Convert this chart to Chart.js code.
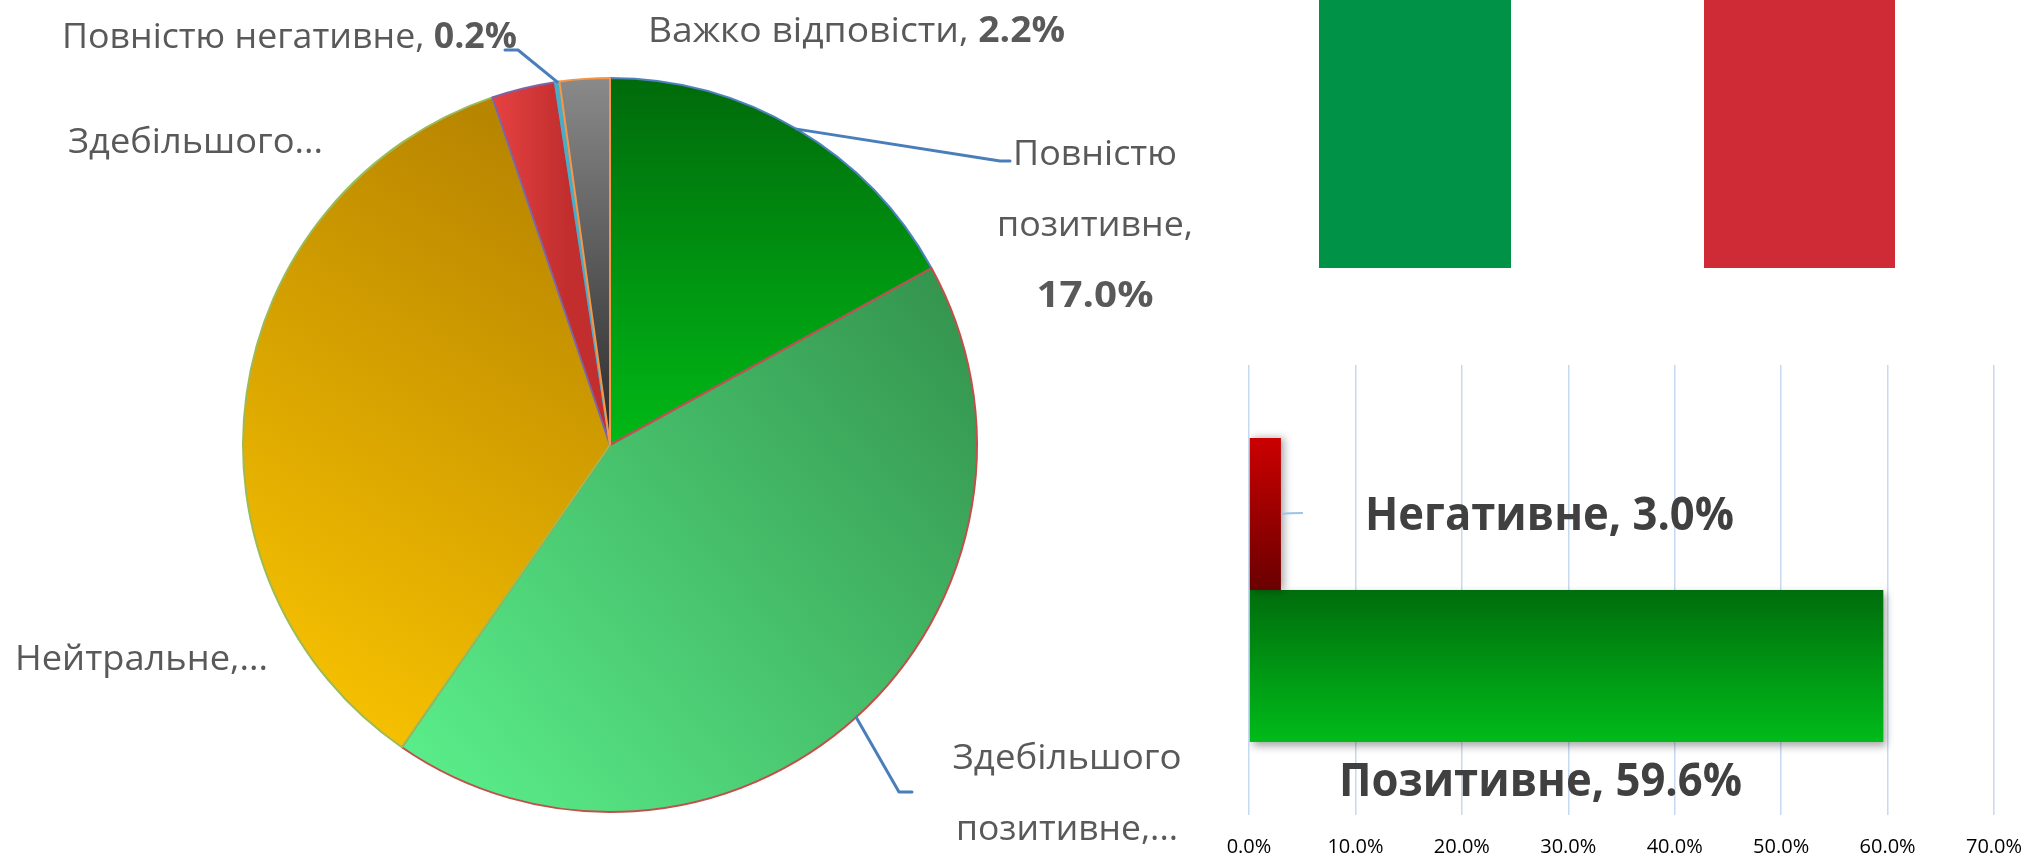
<!DOCTYPE html>
<html><head><meta charset="utf-8">
<script src="https://cdn.jsdelivr.net/npm/chart.js@4.4.1/dist/chart.umd.min.js"></script>
<style>
html,body{margin:0;padding:0;width:2024px;height:855px;overflow:hidden;background:#fff;}
#pieWrap{position:absolute;left:0;top:0;width:2024px;height:855px;}
#barWrap{position:absolute;left:1200px;top:340px;width:860px;height:560px;}
.flag{position:absolute;top:0;height:268px;}
</style></head><body>
<div class="flag" style="left:1319px;width:192px;background:#009246"></div>
<div class="flag" style="left:1704px;width:191px;background:#ce2b37"></div>
<div id="pieWrap"><canvas id="pie"></canvas></div>
<div id="barWrap"><canvas id="bar"></canvas></div>
<script>
// ---------- DATA ----------
const pieCategories = ['Повністю позитивне','Здебільшого позитивне','Нейтральне','Здебільшого негативне','Повністю негативне','Важко відповісти'];
const pieValues = [17.0, 42.6, 35.2, 2.8, 0.2, 2.2];
const barCategories = ['Негативне','Позитивне'];
const barValues = [3.0, 59.6];
const xTickMin = 0, xTickMax = 70, xTickStep = 10;

// ---------- STYLE ----------
const FONT = '"Open Sans", sans-serif';
const fmt = v => v.toFixed(1) + '%';
const pieBorders = ['#4f81bd','#c0504d','#9bbb59','#8064a2','#4bacc6','#f79646'];
// gradient endpoints in units of the pie radius, relative to centre
const pieGrad = [
  {f:[0.2,-1.0], t:[0.2,0.0], c:['#006a0b','#00b916']},
  {f:[-0.55,0.95], t:[0.95,-0.35], c:['#5bf08c','#35964f']},
  {f:[-0.95,0.65], t:[-0.1,-0.75], c:['#f7c200','#b88500']},
  {f:[-0.33,-0.9], t:[-0.12,-0.9], c:['#e84343','#c22e2e']},
  {f:[0,-1], t:[0,0], c:['#4bacc6','#4bacc6']},
  {f:[0,-1.0], t:[0,-0.1], c:['#8a8a8a','#333333']}
];
const barGrad = [['#cc0000','#6a0000'],['#006d0c','#00bb1a']];

function drawRich(ctx, parts, x, y, width, align, size, color){
  ctx.save();
  ctx.fillStyle = color; ctx.textBaseline = 'alphabetic'; ctx.textAlign = 'left';
  let total = 0;
  parts.forEach(p => { ctx.font = (p.b ? '700 ' : '400 ') + size + 'px ' + FONT; p.w = ctx.measureText(p.t).width; total += p.w; });
  const k = width ? width / total : 1;
  const left = align === 'center' ? x - total * k / 2 : x;
  ctx.translate(left, y); ctx.scale(k, 1);
  let cx = 0;
  parts.forEach(p => { ctx.font = (p.b ? '700 ' : '400 ') + size + 'px ' + FONT; ctx.fillText(p.t, cx, 0); cx += p.w; });
  ctx.restore();
}

function pieFill(c){
  const g = pieGrad[c.dataIndex];
  const ca = c.chart.chartArea;
  if (!ca) return g.c[0];
  const cx = (ca.left + ca.right) / 2, cy = (ca.top + ca.bottom) / 2;
  const r = Math.min(ca.right - ca.left, ca.bottom - ca.top) / 2;
  const gr = c.chart.ctx.createLinearGradient(cx + g.f[0]*r, cy + g.f[1]*r, cx + g.t[0]*r, cy + g.t[1]*r);
  gr.addColorStop(0, g.c[0]); gr.addColorStop(1, g.c[1]);
  return gr;
}

// label layout (page coordinates); text built from the data arrays
const n = pieCategories, v = pieValues;
const pieLabels = [
  {lines:[[{t:n[0].split(' ')[0]}],[{t:n[0].split(' ')[1] + ','}],[{t:fmt(v[0]), b:true}]], x:1095, ys:[165,236,307], ws:[164,196,117], align:'center'},
  {lines:[[{t:n[1].split(' ')[0]}],[{t:n[1].split(' ')[1] + ',...'}]], x:1067, ys:[769,840], ws:[229,222], align:'center'},
  {lines:[[{t:n[2] + ',...'}]], x:15, ys:[670], ws:[253], align:'left'},
  {lines:[[{t:n[3].split(' ')[0] + '...'}]], x:68, ys:[153], ws:[255], align:'left'},
  {lines:[[{t:n[4] + ', '},{t:fmt(v[4]), b:true}]], x:62, ys:[48], ws:[455], align:'left'},
  {lines:[[{t:n[5] + ', '},{t:fmt(v[5]), b:true}]], x:648, ys:[42], ws:[417], align:'left'}
];
const pieLeaders = [
  {index:0, pts:[[1000,161],[1010,161]]},
  {index:1, pts:[[899,792],[912,792]]},
  {index:4, pts:[[518,50],[505,50]]}
];

const pieLabelPlugin = {
  id:'pieLabels',
  afterDraw(chart){
    const ctx = chart.ctx, meta = chart.getDatasetMeta(0);
    ctx.save();
    ctx.strokeStyle = '#4a7ebb'; ctx.lineWidth = 3; ctx.lineJoin = 'round'; ctx.lineCap = 'round';
    pieLeaders.forEach(l => {
      const p = meta.data[l.index].getProps(['x','y','startAngle','endAngle','outerRadius']);
      const mid = (p.startAngle + p.endAngle) / 2;
      ctx.beginPath();
      ctx.moveTo(p.x + Math.cos(mid) * p.outerRadius, p.y + Math.sin(mid) * p.outerRadius);
      l.pts.forEach(pt => ctx.lineTo(pt[0], pt[1]));
      ctx.stroke();
    });
    ctx.restore();
    pieLabels.forEach(L => L.lines.forEach((parts, i) => drawRich(ctx, parts, L.x, L.ys[i], L.ws[i], L.align, 35, '#595959')));
  }
};

new Chart(document.getElementById('pie'), {
  type:'pie',
  data:{labels:pieCategories, datasets:[{data:pieValues, backgroundColor:pieFill, borderColor:pieBorders, borderWidth:2}]},
  options:{responsive:true, maintainAspectRatio:false, animation:false,
    layout:{padding:{left:242, top:77, right:1046, bottom:42}},
    plugins:{legend:{display:false}, tooltip:{enabled:false}}},
  plugins:[pieLabelPlugin]
});

// ---------- BAR ----------
const BAR_LEFT = 1200, BAR_TOP = 340;
const CAT_PCT = 0.676;
function barFill(c, i){
  const y = c.chart.scales.y;
  if (!y || y.top === undefined || y.bottom === y.top) return barGrad[i][0];
  const center = y.getPixelForValue(0);
  const full = (y.bottom - y.top) * CAT_PCT;
  const top = center - full / 2 + i * full / 2;
  const gr = c.chart.ctx.createLinearGradient(0, top, 0, top + full / 2);
  gr.addColorStop(0, barGrad[i][0]); gr.addColorStop(1, barGrad[i][1]);
  return gr;
}
const barLabelPos = [{x:1365, y:530, w:369}, {x:1339, y:796, w:403}];
const barPlugin = {
  id:'barExtras',
  beforeDatasetDraw(chart, args){
    const ctx = chart.ctx; ctx.save();
    ctx.shadowColor = 'rgba(0,0,0,0.35)'; ctx.shadowBlur = 8;
    ctx.shadowOffsetX = 3; ctx.shadowOffsetY = args.index === 0 ? 0 : 4;
  },
  afterDatasetDraw(chart){ chart.ctx.restore(); },
  afterDraw(chart){
    const ctx = chart.ctx;
    const el = chart.getDatasetMeta(0).data[0];
    ctx.save();
    ctx.strokeStyle = '#9dc3e6'; ctx.lineWidth = 2;
    ctx.beginPath(); ctx.moveTo(el.x, el.y); ctx.quadraticCurveTo(el.x + 8, el.y - 1, el.x + 22, el.y - 1); ctx.stroke();
    ctx.restore();
    barCategories.forEach((c, i) => {
      const p = barLabelPos[i];
      drawRich(ctx, [{t:c + ', ' + fmt(barValues[i]), b:true}], p.x - BAR_LEFT, p.y - BAR_TOP, p.w, 'left', 46, '#404040');
    });
  }
};

new Chart(document.getElementById('bar'), {
  type:'bar',
  data:{labels:[''], datasets:barCategories.map((c, i) => ({label:c, data:[barValues[i]], backgroundColor:(ctx) => barFill(ctx, i), borderWidth:0, categoryPercentage:CAT_PCT, barPercentage:1}))},
  options:{indexAxis:'y', responsive:true, maintainAspectRatio:false, animation:false,
    layout:{padding:{left:49, right:66, top:25, bottom:21}},
    scales:{
      x:{min:xTickMin, max:xTickMax,
         ticks:{stepSize:xTickStep, callback:(val) => fmt(val), color:'#000', font:{family:FONT, size:20}, padding:20},
         grid:{color:'#c6d9f1', lineWidth:1.5, drawTicks:false}, border:{display:false}},
      y:{display:false}
    },
    plugins:{legend:{display:false}, tooltip:{enabled:false}}},
  plugins:[barPlugin]
});
</script>
</body></html>
